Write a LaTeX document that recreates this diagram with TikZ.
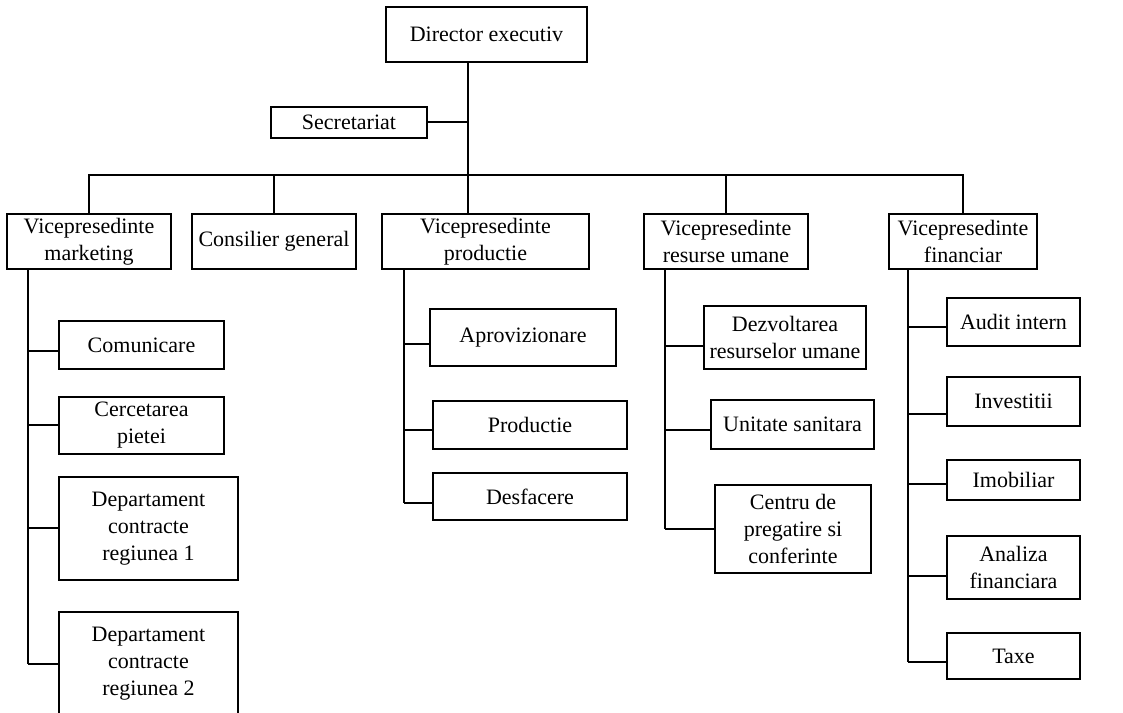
\documentclass[tikz,border=0pt]{standalone}
\usepackage{fontspec}
\setmainfont{Liberation Serif}
\begin{document}
\begin{tikzpicture}[x=1pt,y=-1pt,line width=1.1pt,
        dept/.style 2 args={draw,inner sep=0pt,align=center,
          font=\fontsize{22}{27}\selectfont,
          minimum width=#1pt,minimum height=#2pt}]

  \useasboundingbox (0,0) rectangle (1123,712);

  % top level
  \node[dept={201}{55}] (dir) at (486.5,34.5) {Director executiv};
  \node[dept={156}{31}] (sec) at (349,122.5) {Secretariat};

  \node[dept={164}{55}] (vpm)  at (89,241.5)  {Vicepresedinte\\marketing};
  \node[dept={164}{55}] (cons) at (274,241.5) {Consilier general};
  \node[dept={207}{55}] (vpp)  at (485.5,241.5) {Vicepresedinte\\productie};
  \node[dept={164}{55}] (vpr)  at (726,241.5) {Vicepresedinte\\resurse umane};
  \node[dept={148}{55}] (vpf)  at (963,241.5) {Vicepresedinte\\financiar};

  % marketing
  \node[dept={165}{48}]  (com)  at (141.5,345) {Comunicare};
  \node[dept={165}{57}]  (cer)  at (141.5,425.5) {Cercetarea\\pietei};
  \node[dept={179}{103}] (dep1) at (148.5,528.5) {Departament\\contracte\\regiunea 1};
  \node[dept={179}{104}] (dep2) at (148.5,664) {Departament\\contracte\\regiunea 2};

  % productie
  \node[dept={186}{57}] (apr)  at (523,337.5) {Aprovizionare};
  \node[dept={194}{48}] (prod) at (530,425) {Productie};
  \node[dept={194}{47}] (desf) at (530,496.5) {Desfacere};

  % resurse umane
  \node[dept={162}{63}] (dezv) at (785,337.5) {Dezvoltarea\\resurselor umane};
  \node[dept={163}{49}] (unit) at (792.5,424.5) {Unitate sanitara};
  \node[dept={156}{88}] (cent) at (793,529) {Centru de\\pregatire si\\conferinte};

  % financiar
  \node[dept={133}{48}] (aud)  at (1013.5,322) {Audit intern};
  \node[dept={133}{49}] (inv)  at (1013.5,401.5) {Investitii};
  \node[dept={133}{40}] (imob) at (1013.5,480) {Imobiliar};
  \node[dept={133}{63}] (anal) at (1013.5,567.5) {Analiza\\financiara};
  \node[dept={133}{46}] (tax)  at (1013.5,656) {Taxe};

  % connectors
  \coordinate (trunk) at (468,175);
  \draw (dir.south -| trunk) -- (vpp.north -| trunk);
  \draw ([yshift=0.5pt]sec.east) -- ([yshift=0.5pt]sec.east -| trunk);
  \draw (vpm.north) -- (vpm.north |- trunk) -- (vpf.north |- trunk) -- (vpf.north);
  \draw (cons.north) -- (cons.north |- trunk);
  \draw (vpr.north) -- (vpr.north |- trunk);

  \coordinate (mk) at (28,269);
  \coordinate (pr) at (404,269);
  \coordinate (ru) at (665,269);
  \coordinate (fi) at (908,269);

  \draw (mk) -- (dep2.west -| mk);
  \foreach \n/\d in {com/-6,cer/0.5,dep1/0.5,dep2/0}
    \draw ([yshift=\d pt]\n.west -| mk) -- ([yshift=\d pt]\n.west);
  \draw (pr) -- ([yshift=-6.5pt]desf.west -| pr);
  \foreach \n/\d in {apr/-6.5,prod/-5,desf/-6.5}
    \draw ([yshift=\d pt]\n.west -| pr) -- ([yshift=\d pt]\n.west);
  \draw (ru) -- (cent.west -| ru);
  \foreach \n/\d in {dezv/-8.5,unit/-5.5,cent/0}
    \draw ([yshift=\d pt]\n.west -| ru) -- ([yshift=\d pt]\n.west);
  \draw (fi) -- ([yshift=-6pt]tax.west -| fi);
  \foreach \n/\d in {aud/-5,inv/-12.5,imob/-4,anal/-8.5,tax/-6}
    \draw ([yshift=\d pt]\n.west -| fi) -- ([yshift=\d pt]\n.west);

\end{tikzpicture}
\end{document}
